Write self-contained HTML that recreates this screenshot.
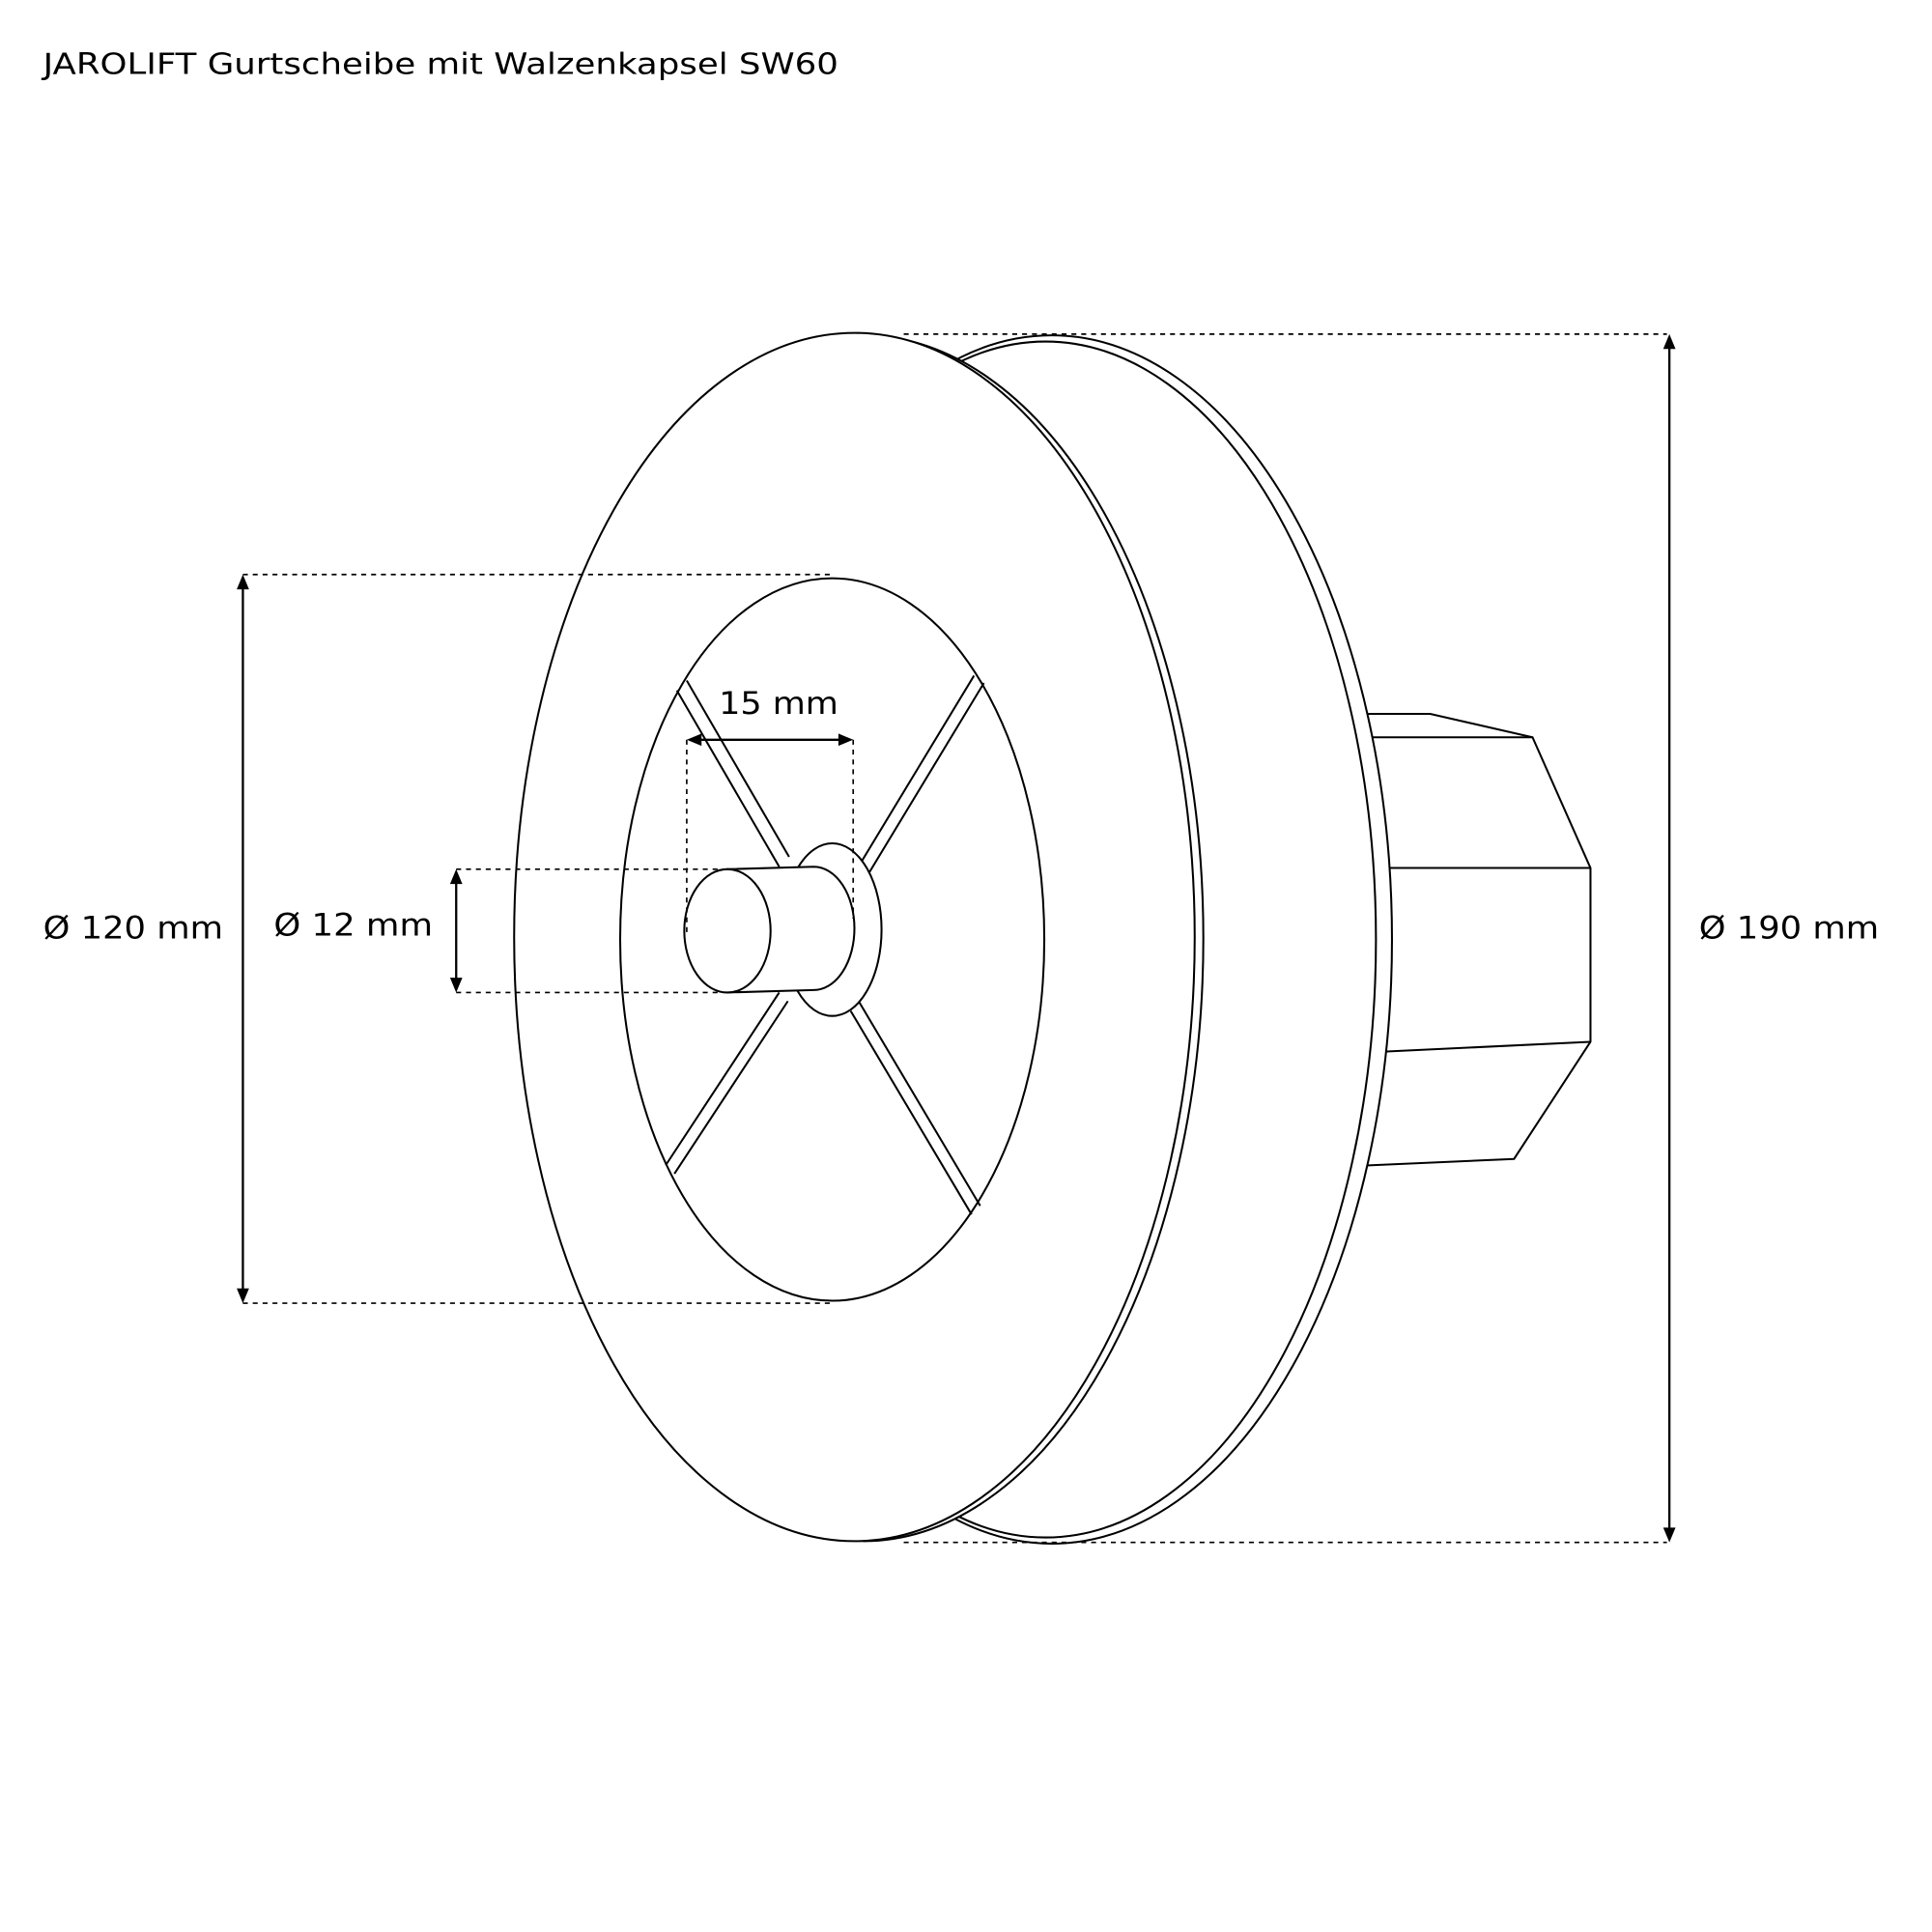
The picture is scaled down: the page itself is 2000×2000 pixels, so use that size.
<!DOCTYPE html>
<html><head><meta charset="utf-8"><style>html,body{margin:0;padding:0;background:#fff}svg{display:block}</style></head>
<body>
<svg width="2000" height="2000" viewBox="0 0 1567 1567" xmlns="http://www.w3.org/2000/svg" font-family="DejaVu Sans, Liberation Sans, sans-serif" font-size="25" fill="none" stroke="#000" stroke-width="1.6">
<text x="35" y="60" fill="#000" stroke="none" font-size="24" textLength="645" lengthAdjust="spacingAndGlyphs">JAROLIFT Gurtscheibe mit Walzenkapsel SW60</text>
<!-- hub block -->
<polygon points="1000,579 1160,579 1243,598 1290,704 1290,845 1228,940 1000,950" fill="#fff"/>
<line x1="1100" y1="598" x2="1243" y2="598"/>
<line x1="1100" y1="704" x2="1290" y2="704"/>
<line x1="1100" y1="854" x2="1290" y2="845"/>
<!-- back disk -->
<ellipse cx="853" cy="762" rx="276" ry="490" fill="#fff"/>
<ellipse cx="848" cy="762" rx="268" ry="485" fill="#fff"/>
<!-- front disk double edge -->
<path d="M700 272 A276 489 0 0 1 700 1250" fill="#fff"/>
<ellipse cx="693" cy="760" rx="276" ry="490" fill="#fff"/>
<!-- inner -->
<ellipse cx="675" cy="762" rx="172" ry="293"/>
<!-- spokes -->
<line x1="549" y1="560" x2="632" y2="703"/><line x1="557" y1="552" x2="640" y2="695"/>
<line x1="790" y1="548" x2="695" y2="705"/><line x1="798" y1="554" x2="703" y2="711"/>
<line x1="540" y1="945" x2="632" y2="805"/><line x1="547" y1="952" x2="639" y2="812"/>
<line x1="690" y1="820" x2="788" y2="985"/><line x1="697" y1="813" x2="795" y2="978"/>
<!-- hub ring -->
<ellipse cx="675" cy="754" rx="40" ry="70" fill="#fff"/>
<!-- shaft -->
<path d="M590 705 L660 703 A33 50 0 0 1 660 803 L590 805 Z" fill="#fff"/>
<ellipse cx="590" cy="755" rx="35" ry="50" fill="#fff"/>
<!-- dims -->
<g stroke-dasharray="4,4" stroke-width="1.3">
<line x1="733" y1="271" x2="1352" y2="271"/>
<line x1="733" y1="1251" x2="1352" y2="1251"/>
<line x1="197" y1="466" x2="675" y2="466"/>
<line x1="197" y1="1057" x2="675" y2="1057"/>
<line x1="370" y1="705" x2="585" y2="705"/>
<line x1="370" y1="805" x2="585" y2="805"/>
<line x1="557" y1="600" x2="557" y2="760"/>
<line x1="692" y1="600" x2="692" y2="745"/>
</g>
<g stroke-width="1.8">
<line x1="1354" y1="280" x2="1354" y2="1242"/>
<line x1="197" y1="475" x2="197" y2="1048"/>
<line x1="370" y1="714" x2="370" y2="796"/>
<line x1="566" y1="600" x2="683" y2="600"/>
</g>
<g fill="#000" stroke="none">
<polygon points="1354,271 1349,283 1359,283"/><polygon points="1354,1251 1349,1239 1359,1239"/>
<polygon points="197,466 192,478 202,478"/><polygon points="197,1057 192,1045 202,1045"/>
<polygon points="370,705 365,717 375,717"/><polygon points="370,805 365,793 375,793"/>
<polygon points="557,600 569,595 569,605"/><polygon points="692,600 680,595 680,605"/>
<text x="583" y="579" textLength="97" lengthAdjust="spacingAndGlyphs">15 mm</text>
<text x="35" y="761" textLength="146" lengthAdjust="spacingAndGlyphs">Ø 120 mm</text>
<text x="222" y="759" textLength="129" lengthAdjust="spacingAndGlyphs">Ø 12 mm</text>
<text x="1378" y="761" textLength="146" lengthAdjust="spacingAndGlyphs">Ø 190 mm</text>
</g>
</svg>
</body></html>
